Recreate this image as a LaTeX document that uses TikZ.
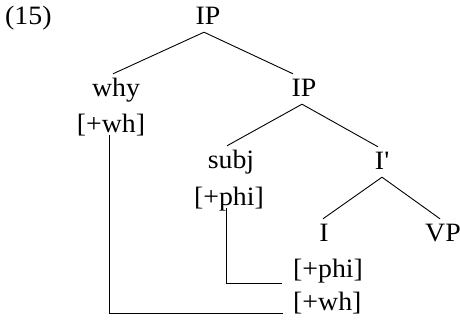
\documentclass[tikz,border=0pt]{standalone}
\usepackage{fontspec}
\setmainfont[FakeStretch=1.05]{Liberation Serif}
\begin{document}
\begin{tikzpicture}[x=1pt,y=-1pt,
  lab/.style={font=\fontsize{26.5}{30}\selectfont, inner sep=2pt, text height=21pt, text depth=5pt, anchor=base},
  labw/.style={lab, anchor=base west},
  edge/.style={line width=0.9pt},
  feat/.style={line width=0.9pt}]
\useasboundingbox (0,0) rectangle (460,320);
\node[labw] (ex) at (3,25) {(15)};
\node[lab] (ip) at (208,25) {IP};
\node[lab] (why) at (116,97) {why};
\node[lab] (whf) at (111,133) {[+wh]};
\node[lab] (ip2) at (304,97) {IP};
\node[lab] (subj) at (231,169) {subj};
\node[lab] (phim) at (229,206) {[+phi]};
\node[lab] (ibar) at (382,170) {I\textquotesingle};
\node[lab] (i) at (324,242) {I};
\node[lab] (vp) at (443,242) {VP};
\node[labw] (phil) at (291,277) {[+phi]};
\node[labw] (whl) at (291,310) {[+wh]};
\draw[edge] ([xshift=-4pt]ip.south) -- ([xshift=-3pt]why.north);
\draw[edge] ([xshift=-4pt]ip.south) -- ([xshift=-11pt]ip2.north);
\draw[edge] ([xshift=-2pt]ip2.south) -- ([xshift=-4pt]subj.north);
\draw[edge] ([xshift=-2pt]ip2.south) -- ([xshift=-4pt]ibar.north);
\draw[edge] ([xshift=0pt]ibar.south) -- ([xshift=-1pt]i.north);
\draw[edge] ([xshift=0pt]ibar.south) -- ([xshift=-3pt]vp.north);
\draw[feat] ([xshift=-2pt,yshift=5pt]whf.south) |- ([xshift=-8pt,yshift=-3pt]whl.base west);
\draw[feat] ([xshift=-3pt,yshift=5pt]phim.south) |- ([xshift=-9pt,yshift=-6pt]phil.base west);
\end{tikzpicture}
\end{document}
